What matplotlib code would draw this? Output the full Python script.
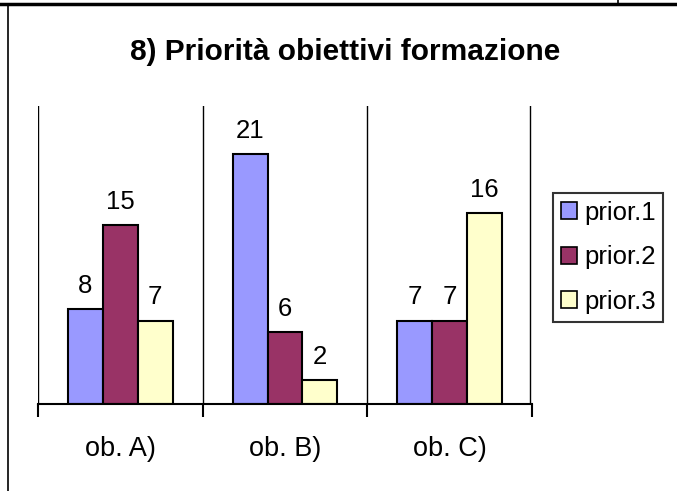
import numpy as np
import matplotlib.pyplot as plt
from matplotlib.lines import Line2D
from matplotlib.patches import Patch

plt.rcParams['font.family'] = ['Liberation Sans', 'DejaVu Sans']

categorie = ["ob. A)", "ob. B)", "ob. C)"]
serie = ["prior.1", "prior.2", "prior.3"]
prior1 = [8, 21, 7]
prior2 = [15, 6, 7]
prior3 = [7, 2, 16]
colori = ["#9999FF", "#993366", "#FFFFCC"]

W, H = 677, 491
fig = plt.figure(figsize=(W / 100, H / 100), dpi=100)
ax = fig.add_axes([38 / W, 1 - 404 / H, (532 - 38) / W, (404 - 106) / H])

x = np.arange(len(categorie))
larg = 35 / 165
valori = [prior1, prior2, prior3]
for i, (vals, col) in enumerate(zip(valori, colori)):
    pos = x + (i - 1) * larg
    barre = ax.bar(pos, vals, width=larg, color=col, edgecolor="black", linewidth=1.5)
    for b, v in zip(barre, vals):
        ax.annotate(str(v), (b.get_x() + b.get_width() / 2, v), xytext=(0, 8),
                    textcoords="offset points", ha="center", va="bottom", fontsize=18.5)

ax.set_xlim(-0.5, 2.5)
ax.set_ylim(0, 25)
ax.set_yticks([])
for s in ["top", "left", "right"]:
    ax.spines[s].set_visible(False)
ax.spines["bottom"].set_linewidth(1.5)
for b in [-0.5, 0.5, 1.5, 2.49]:
    ax.axvline(b, color="black", linewidth=1, zorder=0)
ax.set_xticks(x)
ax.set_xticklabels(categorie, fontsize=19.5)
ax.tick_params(axis="x", length=0, pad=23)
ax.set_xticks([-0.5, 0.5, 1.5, 2.5], minor=True)
ax.tick_params(axis="x", which="minor", length=9, width=1.5, direction="out")

fig.text(345 / W, 1 - 52 / H, "8) Priorità obiettivi formazione", ha="center", va="center",
         fontsize=21.5, fontweight="bold")

handles = [Patch(facecolor=c, edgecolor="black", linewidth=1.2) for c in colori]
leg = fig.legend(handles, serie, loc="upper left", bbox_to_anchor=(553 / W, 1 - 193 / H),
                 fontsize=18.5, frameon=True, fancybox=False, edgecolor="black",
                 handlelength=0.65, handleheight=0.65, handletextpad=0.25,
                 borderpad=0.3, labelspacing=0.8, borderaxespad=0)
leg.get_frame().set_linewidth(1.5)

# cornice
fig.add_artist(Line2D([0, 1], [1 - 4 / H, 1 - 4 / H], color="black", linewidth=2.5))
fig.add_artist(Line2D([8 / W, 8 / W], [0, 1 - 4 / H], color="black", linewidth=1.2))
fig.add_artist(Line2D([618 / W, 618 / W], [1 - 4 / H, 1], color="black", linewidth=1.2))

fig.savefig("out.png", dpi=100)
